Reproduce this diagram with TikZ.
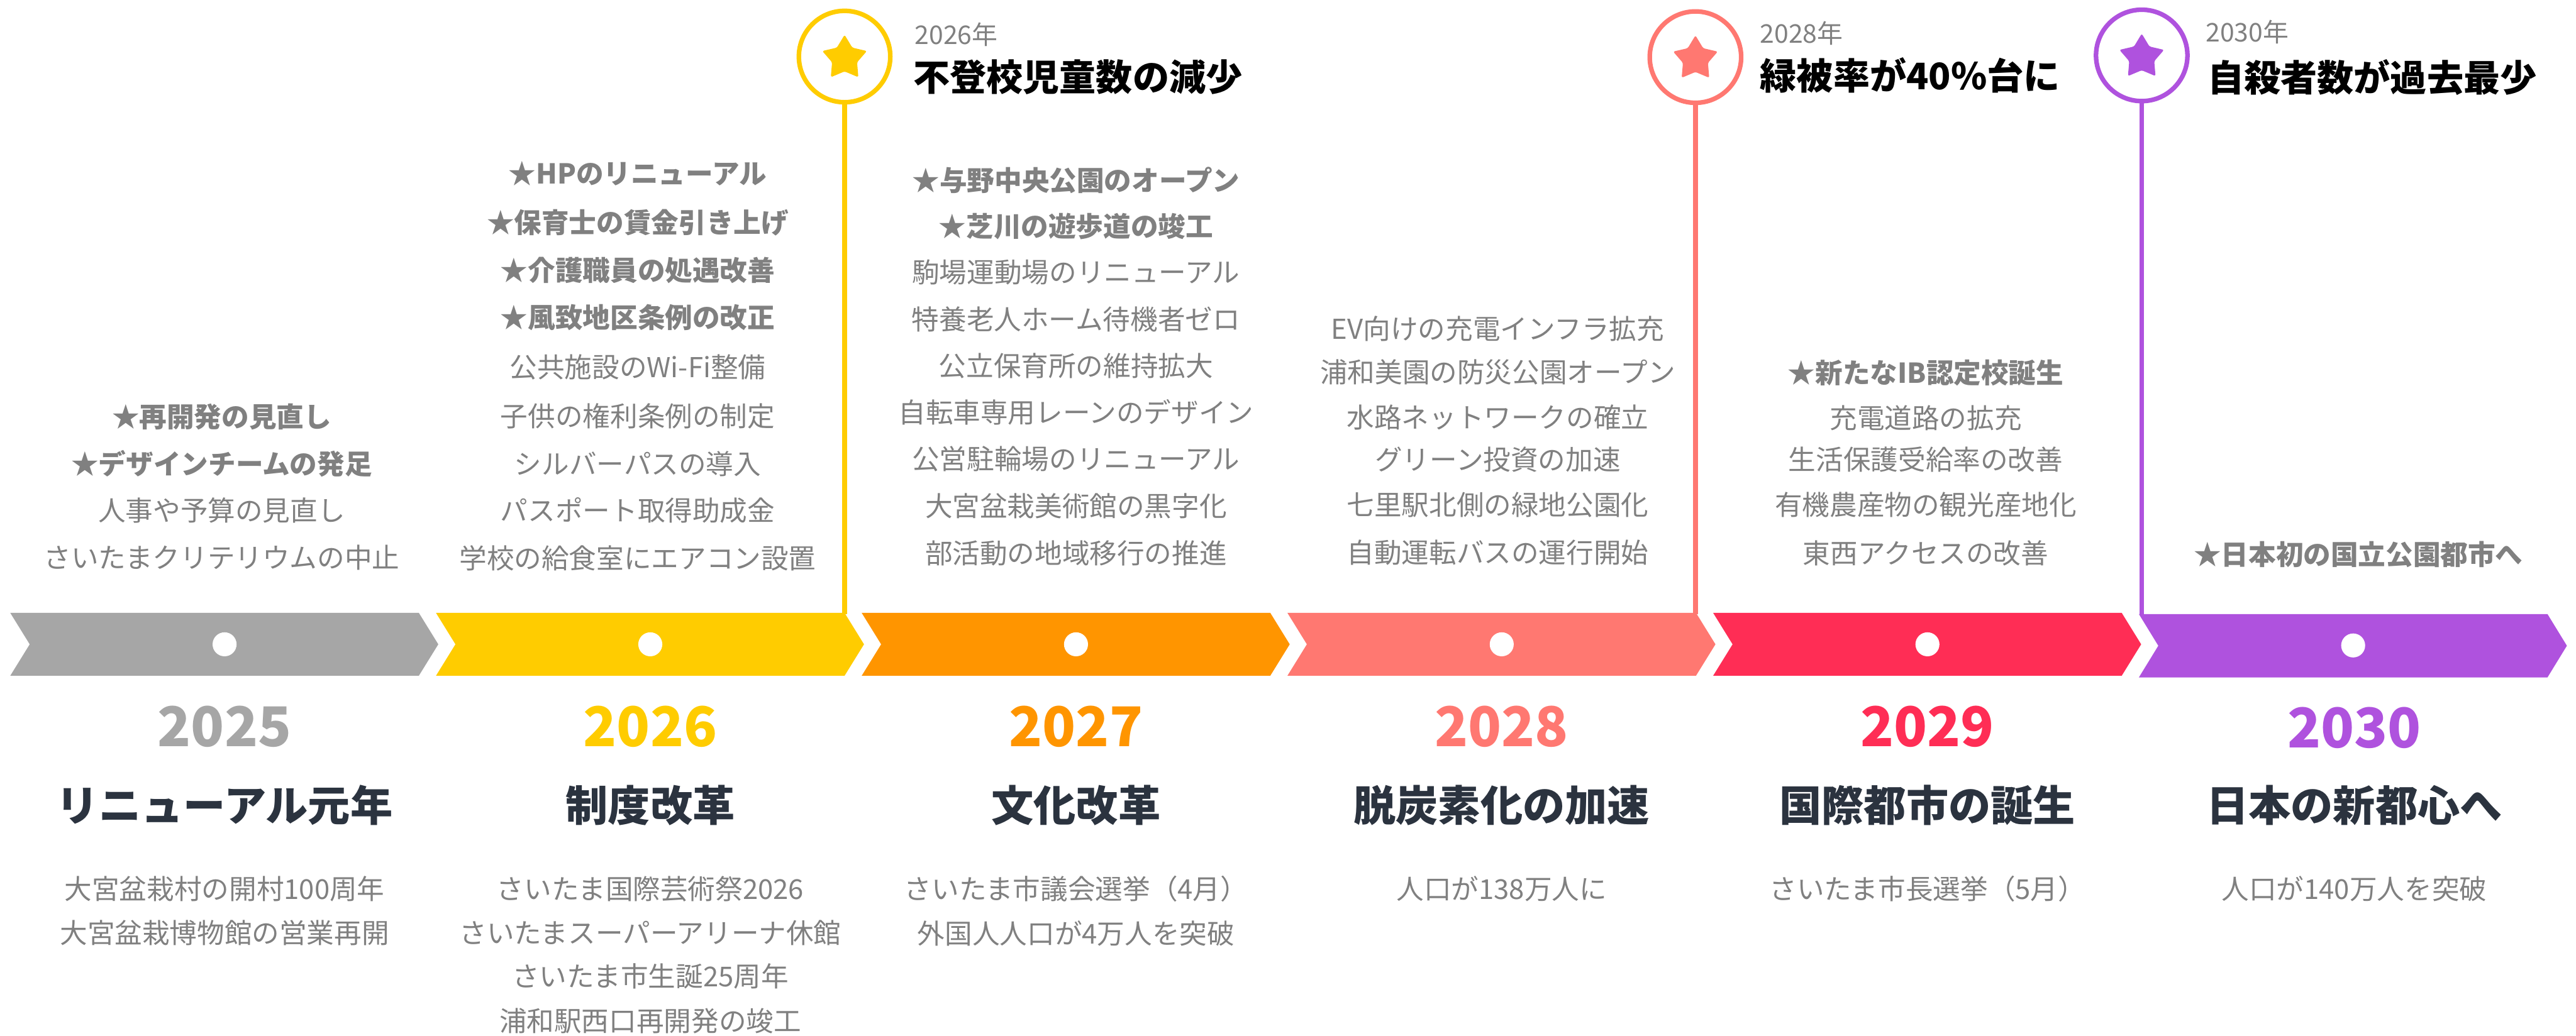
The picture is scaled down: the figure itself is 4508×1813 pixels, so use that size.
\documentclass[tikz,border=0pt]{standalone}
\usepackage{fontspec}
\setmainfont{Noto Sans CJK JP}
\usetikzlibrary{calc}
\definecolor{cgray}{HTML}{A6A6A6}
\definecolor{cyellow}{HTML}{FFCC00}
\definecolor{corange}{HTML}{FF9500}
\definecolor{csalmon}{HTML}{FF7871}
\definecolor{cred}{HTML}{FF2D55}
\definecolor{cpurple}{HTML}{AF52DE}
\definecolor{txtgray}{HTML}{808080}
\definecolor{navy}{HTML}{2B333F}
\newcommand\fsz[1]{\fontsize{#1}{#1}\selectfont}
\tikzset{
  item/.style={text=txtgray, font=\fsz{48}, inner sep=0pt, anchor=center},
  bitem/.style={item, font=\fsz{48}\bfseries},
  yearlbl/.style={font=\fsz{96}\bfseries, inner sep=0pt},
  ttl/.style={font=\fsz{74}\bfseries, text=navy, inner sep=0pt},
  mring/.style={circle, draw, line width=8pt, minimum size=160pt, inner sep=0pt, fill=white},
  myear/.style={text=txtgray, font=\fsz{45}, anchor=west, inner sep=0pt},
  mtitle/.style={text=black, font=\fsz{64}\bfseries, anchor=west, inner sep=0pt},
  mline/.style={line width=8pt},
  dot/.style={circle, fill=white, minimum size=42pt, inner sep=0pt}
}
% chevron: #1 left x, #2 top y, #3 bottom y, #4 colour
\newcommand\chev[4]{%
  \fill[#4] (#1,#2) -- ({#1+715},#2) -- ({#1+749},{(#2+#3)/2}) -- ({#1+715},#3)
    -- (#1,#3) -- ({#1+34},{(#2+#3)/2}) -- cycle;}
% star: #1 centre x, #2 centre y, #3 colour
\newcommand\mstar[3]{%
  \fill[#3, rounded corners=3pt] ($(#1,#2)+(270:41)$) -- ($(#1,#2)+(306:23)$)
   -- ($(#1,#2)+(342:41)$) -- ($(#1,#2)+(18:23)$) -- ($(#1,#2)+(54:41)$)
   -- ($(#1,#2)+(90:23)$) -- ($(#1,#2)+(126:41)$) -- ($(#1,#2)+(162:23)$)
   -- ($(#1,#2)+(198:41)$) -- ($(#1,#2)+(234:23)$) -- cycle;}
\begin{document}
\begin{tikzpicture}[x=1pt,y=-1pt]
\useasboundingbox[fill=white] (0,0) rectangle (4508,1813);

% chevron band
\chev{18}{1073}{1183}{cgray}
\chev{763}{1073}{1183}{cyellow}
\chev{1508}{1073}{1183}{corange}
\chev{2253}{1073}{1183}{csalmon}
\chev{2998}{1073}{1183}{cred}
\chev{3743}{1075}{1186}{cpurple}
\node[dot] (d1) at (393,1128) {};
\node[dot] (d2) at (1138,1128) {};
\node[dot] (d3) at (1883,1128) {};
\node[dot] (d4) at (2628,1128) {};
\node[dot] (d5) at (3373,1128) {};
\node[dot] (d6) at (4118,1130) {};

% milestones
\coordinate (t1) at (1478,1075);
\coordinate (t2) at (2967,1075);
\coordinate (t3) at (3748,1077);
\node[mring, draw=cyellow] (m1) at (1478,99) {};
\node[mring, draw=csalmon] (m2) at (2967,100) {};
\node[mring, draw=cpurple] (m3) at (3748,97) {};
\draw[mline, cyellow] (m1.south) -- (t1);
\draw[mline, csalmon] (m2.south) -- (t2);
\draw[mline, cpurple] (m3.south) -- (t3);
\mstar{1478}{102}{cyellow}
\mstar{2967}{103}{csalmon}
\mstar{3748}{100}{cpurple}
\node[myear] (my1) at (1601,60) {2026年};
\node[mtitle] (mt1) at (1598,135) {不登校児童数の減少};
\node[myear] (my2) at (3080,58) {2028年};
\node[mtitle] (mt2) at (3080,132) {緑被率が40\%台に};
\node[myear] (my3) at (3860,56) {2030年};
\node[mtitle] (mt3) at (3863,135) {自殺者数が過去最少};

% upper lists
\node[bitem] (a1) at (388,730) {★再開発の見直し};
\node[bitem] (a2) at (388,812) {★デザインチームの発足};
\node[item]  (a3) at (388,894) {人事や予算の見直し};
\node[item]  (a4) at (388,976) {さいたまクリテリウムの中止};

\node[bitem] (b1) at (1116,304) {★HPのリニューアル};
\node[bitem] (b2) at (1116,390) {★保育士の賃金引き上げ};
\node[bitem] (b3) at (1116,473) {★介護職員の処遇改善};
\node[bitem] (b4) at (1116,556) {★風致地区条例の改正};
\node[item]  (b5) at (1116,643) {公共施設のWi-Fi整備};
\node[item]  (b6) at (1116,729) {子供の権利条例の制定};
\node[item]  (b7) at (1116,812) {シルバーパスの導入};
\node[item]  (b8) at (1116,894) {パスポート取得助成金};
\node[item]  (b9) at (1116,977) {学校の給食室にエアコン設置};

\node[bitem] (c1) at (1883,316) {★与野中央公園のオープン};
\node[bitem] (c2) at (1883,396) {★芝川の遊歩道の竣工};
\node[item]  (c3) at (1883,477) {駒場運動場のリニューアル};
\node[item]  (c4) at (1883,559) {特養老人ホーム待機者ゼロ};
\node[item]  (c5) at (1883,641) {公立保育所の維持拡大};
\node[item]  (c6) at (1883,722) {自転車専用レーンのデザイン};
\node[item]  (c7) at (1883,803) {公営駐輪場のリニューアル};
\node[item]  (c8) at (1883,886) {大宮盆栽美術館の黒字化};
\node[item]  (c9) at (1883,968) {部活動の地域移行の推進};

\node[item] (e1) at (2621,575) {EV向けの充電インフラ拡充};
\node[item] (e2) at (2621,651) {浦和美園の防災公園オープン};
\node[item] (e3) at (2621,731) {水路ネットワークの確立};
\node[item] (e4) at (2621,804) {グリーン投資の加速};
\node[item] (e5) at (2621,884) {七里駅北側の緑地公園化};
\node[item] (e6) at (2621,967) {自動運転バスの運行開始};

\node[bitem] (f1) at (3370,653) {★新たなIB認定校誕生};
\node[item]  (f2) at (3370,732) {充電道路の拡充};
\node[item]  (f3) at (3370,804) {生活保護受給率の改善};
\node[item]  (f4) at (3370,884) {有機農産物の観光産地化};
\node[item]  (f5) at (3370,968) {東西アクセスの改善};

\node[bitem] (g1) at (4127,971) {★日本初の国立公園都市へ};

% years
\node[yearlbl, text=cgray]   (y1) at (393,1272) {2025};
\node[yearlbl, text=cyellow] (y2) at (1138,1272) {2026};
\node[yearlbl, text=corange] (y3) at (1883,1272) {2027};
\node[yearlbl, text=csalmon] (y4) at (2628,1272) {2028};
\node[yearlbl, text=cred]    (y5) at (3373,1272) {2029};
\node[yearlbl, text=cpurple] (y6) at (4120,1274) {2030};

% titles
\node[ttl] (h1) at (393,1410) {リニューアル元年};
\node[ttl] (h2) at (1138,1410) {制度改革};
\node[ttl] (h3) at (1883,1410) {文化改革};
\node[ttl] (h4) at (2628,1410) {脱炭素化の加速};
\node[ttl] (h5) at (3373,1410) {国際都市の誕生};
\node[ttl] (h6) at (4120,1410) {日本の新都心へ};

% descriptions
\node[item] (p1) at (393,1556) {大宮盆栽村の開村100周年};
\node[item] (p2) at (393,1633) {大宮盆栽博物館の営業再開};
\node[item] (q1) at (1138,1556) {さいたま国際芸術祭2026};
\node[item] (q2) at (1138,1633) {さいたまスーパーアリーナ休館};
\node[item] (q3) at (1138,1709) {さいたま市生誕25周年};
\node[item] (q4) at (1138,1787) {浦和駅西口再開発の竣工};
\node[item] (r1) at (1883,1556) {さいたま市議会選挙（4月）};
\node[item] (r2) at (1883,1634) {外国人人口が4万人を突破};
\node[item] (s1) at (2628,1556) {人口が138万人に};
\node[item] (v1) at (3373,1556) {さいたま市長選挙（5月）};
\node[item] (w1) at (4120,1556) {人口が140万人を突破};
\end{tikzpicture}
\end{document}
